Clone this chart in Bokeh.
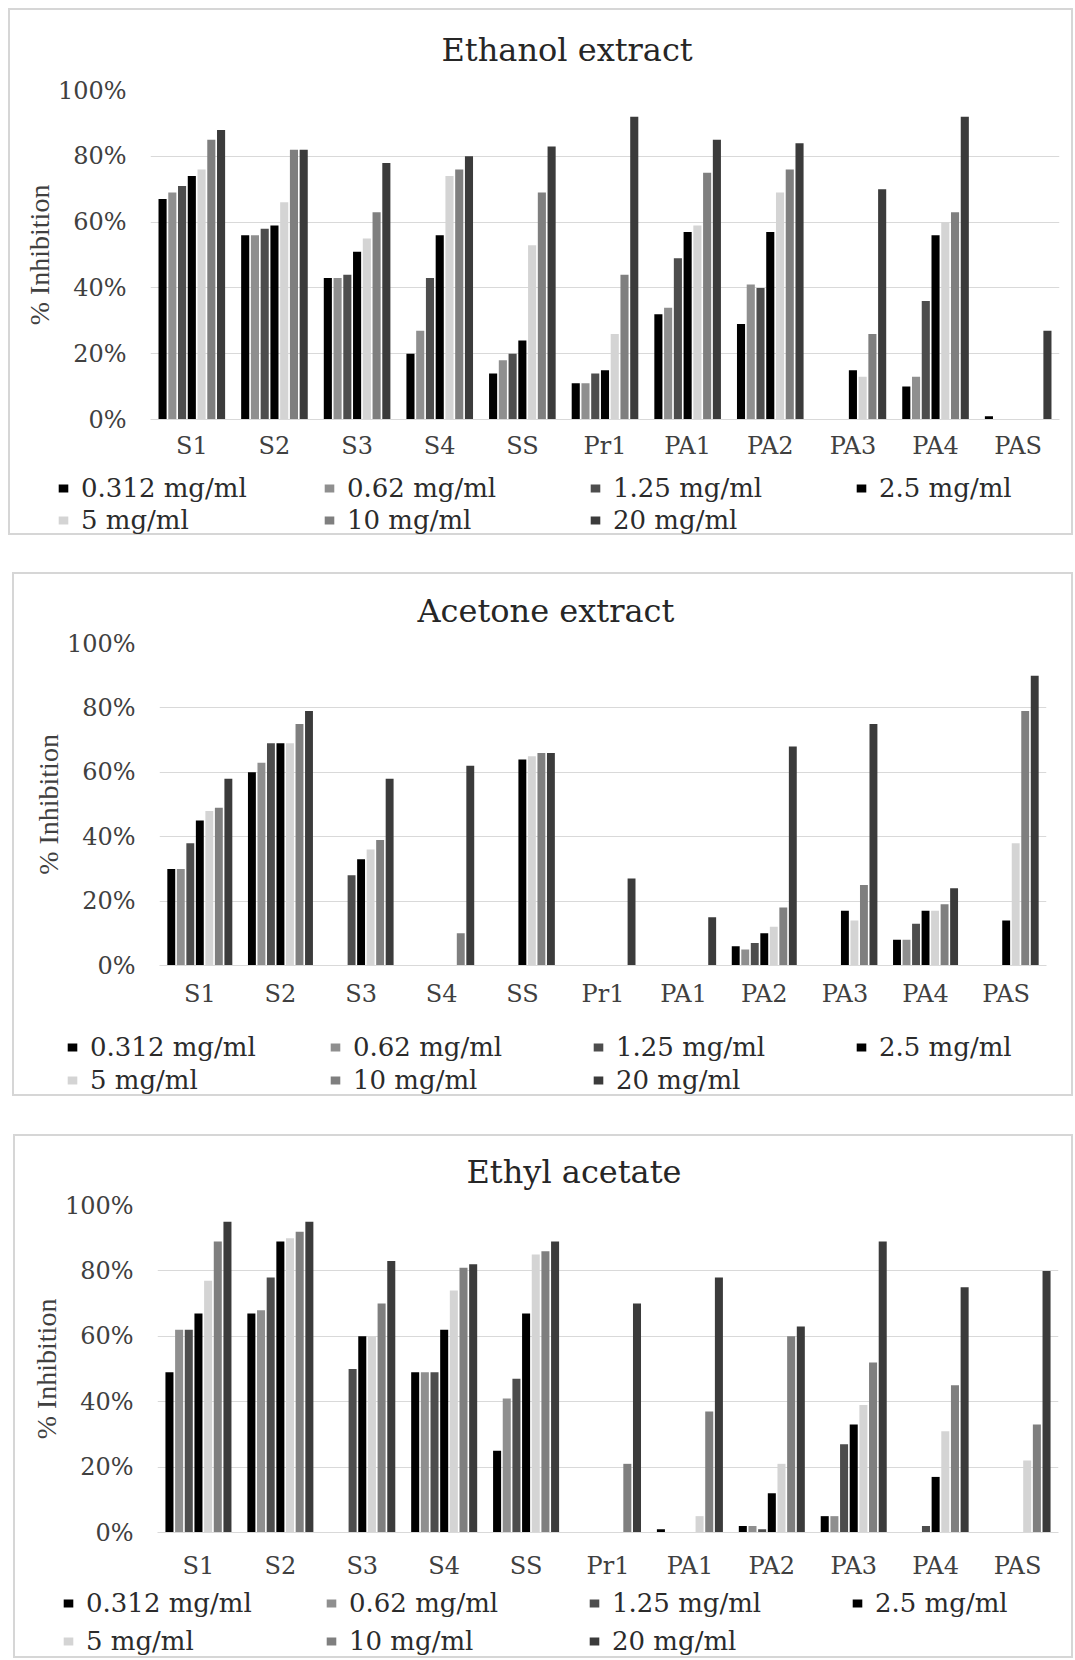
from bokeh.plotting import figure
from bokeh.models import (FactorRange, Range1d, FixedTicker, PrintfTickFormatter,
                          Legend, LegendItem, ColumnDataSource)
from bokeh.transform import dodge
from bokeh.layouts import column
from bokeh.embed import file_html
from bokeh.resources import INLINE

# ---------------- data ----------------
categories = ["S1", "S2", "S3", "S4", "SS", "Pr1", "PA1", "PA2", "PA3", "PA4", "PAS"]
concentrations = ["0.312 mg/ml", "0.62 mg/ml", "1.25 mg/ml", "2.5 mg/ml",
                  "5 mg/ml", "10 mg/ml", "20 mg/ml"]
y_ticks = [0, 20, 40, 60, 80, 100]

ethanol_0312 = [67, 56, 43, 20, 14, 11, 32, 29, 0, 10, 1]
ethanol_062 = [69, 56, 43, 27, 18, 11, 34, 41, 0, 13, 0]
ethanol_125 = [71, 58, 44, 43, 20, 14, 49, 40, 0, 36, 0]
ethanol_25 = [74, 59, 51, 56, 24, 15, 57, 57, 15, 56, 0]
ethanol_5 = [76, 66, 55, 74, 53, 26, 59, 69, 13, 60, 0]
ethanol_10 = [85, 82, 63, 76, 69, 44, 75, 76, 26, 63, 0]
ethanol_20 = [88, 82, 78, 80, 83, 92, 85, 84, 70, 92, 27]

acetone_0312 = [30, 60, 0, 0, 0, 0, 0, 6, 0, 8, 0]
acetone_062 = [30, 63, 0, 0, 0, 0, 0, 5, 0, 8, 0]
acetone_125 = [38, 69, 28, 0, 0, 0, 0, 7, 0, 13, 0]
acetone_25 = [45, 69, 33, 0, 64, 0, 0, 10, 17, 17, 14]
acetone_5 = [48, 69, 36, 0, 65, 0, 0, 12, 14, 17, 38]
acetone_10 = [49, 75, 39, 10, 66, 0, 0, 18, 25, 19, 79]
acetone_20 = [58, 79, 58, 62, 66, 27, 15, 68, 75, 24, 90]

ethyl_0312 = [49, 67, 0, 49, 25, 0, 1, 2, 5, 0, 0]
ethyl_062 = [62, 68, 0, 49, 41, 0, 0, 2, 5, 0, 0]
ethyl_125 = [62, 78, 50, 49, 47, 0, 0, 1, 27, 2, 0]
ethyl_25 = [67, 89, 60, 62, 67, 0, 0, 12, 33, 17, 0]
ethyl_5 = [77, 90, 60, 74, 85, 0, 5, 21, 39, 31, 22]
ethyl_10 = [89, 92, 70, 81, 86, 21, 37, 60, 52, 45, 33]
ethyl_20 = [95, 95, 83, 82, 89, 70, 78, 63, 89, 75, 80]

colors = ["#000000", "#8f8f8f", "#4d4d4d", "#000000", "#d4d4d4", "#7f7f7f", "#3b3b3b"]

FONT = "DejaVu Serif"
STEP = 0.118
BAR_W = 0.098
BORDER = "2px solid #d6d6d6"


def add_bars(p, src):
    rs = []
    for i in range(len(concentrations)):
        r = p.vbar(x=dodge("cat", (i - 3) * STEP, range=p.x_range), top="s%d" % i,
                   width=BAR_W, source=src, fill_color=colors[i], line_color=None)
        rs.append(r)
    return rs


def make_panel(title, series, cw, ch, borders, title_off, title_so, xlab_standoff, margin,
               lh, leg_loc, row_h, col_w, spacing):
    data = {"cat": categories}
    for i, s in enumerate(series):
        data["s%d" % i] = s
    src = ColumnDataSource(data)

    # ---- chart ----
    p = figure(x_range=FactorRange(*categories), y_range=Range1d(0, 100),
               width=cw, height=ch, output_backend="svg", toolbar_location=None,
               min_border_left=borders[0], min_border_right=borders[1],
               min_border_top=borders[2], min_border_bottom=borders[3],
               title=title,
               styles={"border-top": BORDER, "border-left": BORDER, "border-right": BORDER})
    p.frame_align = False
    p.margin = margin
    p.background_fill_color = "white"
    p.border_fill_color = "white"
    p.outline_line_color = None

    p.title.align = "left"
    p.title.offset = title_off
    p.title.vertical_align = "top"
    p.title.standoff = title_so
    p.title.text_font = FONT
    p.title.text_font_size = "32px"
    p.title.text_font_style = "normal"
    p.title.text_color = "#262626"

    add_bars(p, src)

    p.xgrid.grid_line_color = None
    p.ygrid.grid_line_color = "#d9d9d9"
    p.ygrid.grid_line_width = 1

    p.yaxis.ticker = FixedTicker(ticks=y_ticks)
    p.yaxis.formatter = PrintfTickFormatter(format="%d%%")
    p.yaxis.axis_line_color = None
    p.yaxis.major_tick_line_color = None
    p.yaxis.minor_tick_line_color = None
    p.yaxis.major_tick_out = 0
    p.yaxis.major_tick_in = 0
    p.yaxis.major_label_standoff = 24
    p.yaxis.major_label_text_font = FONT
    p.yaxis.major_label_text_font_size = "24px"
    p.yaxis.major_label_text_color = "#404040"
    p.yaxis.axis_label = "% Inhibition"
    p.yaxis.axis_label_text_font = "Liberation Serif"
    p.yaxis.axis_label_text_font_size = "28px"
    p.yaxis.axis_label_text_font_style = "normal"
    p.yaxis.axis_label_text_color = "#404040"
    p.yaxis.axis_label_standoff = 0

    p.xaxis.axis_line_color = "#d9d9d9"
    p.xaxis.major_tick_line_color = None
    p.xaxis.minor_tick_line_color = None
    p.xaxis.major_tick_out = 0
    p.xaxis.major_tick_in = 0
    p.xaxis.major_label_standoff = xlab_standoff
    p.xaxis.major_label_text_font = FONT
    p.xaxis.major_label_text_font_size = "24px"
    p.xaxis.major_label_text_color = "#404040"

    # ---- legend strip (same series, bars kept out of its view) ----
    q = figure(x_range=FactorRange(*categories), y_range=Range1d(1000, 1001),
               width=cw, height=lh, output_backend="svg", toolbar_location=None,
               x_axis_location=None, y_axis_location=None,
               min_border_left=0, min_border_right=0, min_border_top=0, min_border_bottom=0,
               styles={"border-bottom": BORDER, "border-left": BORDER, "border-right": BORDER})
    q.frame_align = False
    q.margin = (0, 0, 0, margin[3])
    q.xgrid.grid_line_color = None
    q.ygrid.grid_line_color = None
    q.outline_line_color = None
    q.background_fill_color = "white"
    q.border_fill_color = "white"
    rs = add_bars(q, src)
    items = [LegendItem(label=lab, renderers=[r]) for lab, r in zip(concentrations, rs)]
    leg = Legend(items=items, location=leg_loc, orientation="horizontal", ncols=4,
                 glyph_width=12, glyph_height=10, label_standoff=12,
                 label_width=col_w, label_height=row_h, spacing=spacing, padding=0, margin=0,
                 border_line_color=None, background_fill_alpha=0,
                 label_text_font=FONT, label_text_font_size="26px",
                 label_text_color="#2b2b2b")
    q.add_layout(leg, "center")
    return p, q


p1, q1 = make_panel("Ethanol extract",
                    [ethanol_0312, ethanol_062, ethanol_125, ethanol_25, ethanol_5, ethanol_10, ethanol_20],
                    1065, 462, (140, 16, 79, 53), 291, 40, 12, (8, 0, 0, 8),
                    65, (47, 0), 29, 240, 2)
p2, q2 = make_panel("Acetone extract",
                    [acetone_0312, acetone_062, acetone_125, acetone_25, acetone_5, acetone_10, acetone_20],
                    1061, 448, (145, 29, 69, 57), 258, 23, 14, (37, 0, 0, 12),
                    76, (52, 1), 31, 237, 2)
p3, q3 = make_panel("Ethyl acetate",
                    [ethyl_0312, ethyl_062, ethyl_125, ethyl_25, ethyl_5, ethyl_10, ethyl_20],
                    1060, 448, (142, 17, 69, 52), 309, 25, 19, (38, 0, 0, 13),
                    76, (47, 0), 34, 235, 4)

layout = column(p1, q1, p2, q2, p3, q3, spacing=0)
open("out.html", "w").write(file_html(layout, INLINE))
